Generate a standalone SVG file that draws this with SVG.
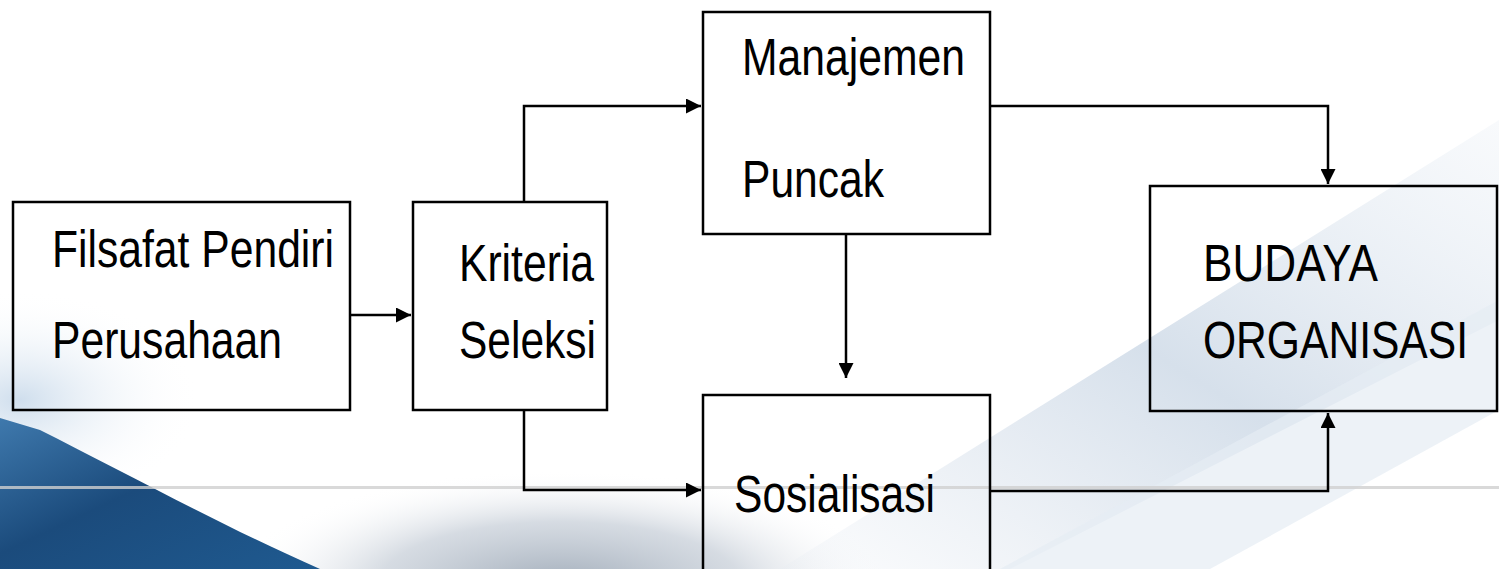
<svg xmlns="http://www.w3.org/2000/svg" width="1499" height="569" viewBox="0 0 1499 569">
<defs>
<style>
.box{fill:none;stroke:#000;stroke-width:2.5}
.lbl{font-family:"Liberation Sans Narrow","Liberation Sans",Arial,sans-serif;font-size:51px;fill:#000}
.con{fill:none;stroke:#000;stroke-width:2.5}
</style>
<marker id="ah" viewBox="0 0 10 10" refX="10" refY="5" markerWidth="6" markerHeight="6" markerUnits="strokeWidth" orient="auto">
<path d="M0,0 L10,5 L0,10 z" fill="#000"/>
</marker>
<linearGradient id="blue" x1="0" y1="0" x2="1" y2="1">
<stop offset="0" stop-color="#3f79ad"/>
<stop offset="0.45" stop-color="#1b4b7c"/>
<stop offset="1" stop-color="#1f5a90"/>
</linearGradient>
<radialGradient id="grayb" cx="0.5" cy="0.5" r="0.5">
<stop offset="0" stop-color="#a2adba"/>
<stop offset="0.55" stop-color="#c4ccd6" stop-opacity="0.7"/>
<stop offset="1" stop-color="#ffffff" stop-opacity="0"/>
</radialGradient>
<linearGradient id="streak" x1="0" y1="1" x2="1" y2="0">
<stop offset="0" stop-color="#dfe6ef" stop-opacity="0.1"/>
<stop offset="0.5" stop-color="#d6e0eb"/>
<stop offset="1" stop-color="#e8eef5" stop-opacity="0.3"/>
</linearGradient>
<radialGradient id="leftfade" cx="0.5" cy="0.5" r="0.5">
<stop offset="0" stop-color="#cfdeed"/>
<stop offset="1" stop-color="#ffffff" stop-opacity="0"/>
</radialGradient>
</defs>
<rect width="1499" height="569" fill="#ffffff"/>
<g id="background">
<ellipse cx="20" cy="400" rx="180" ry="110" fill="url(#leftfade)"/>
<ellipse cx="560" cy="585" rx="330" ry="115" fill="url(#grayb)"/>
<path d="M780,569 L1499,120 L1499,320 L1010,569 Z" fill="url(#streak)"/>
<path d="M1000,569 L1499,300 L1499,410 L1210,569 Z" fill="#e6ecf3" opacity="0.7"/>
<path d="M0,418 L40,430 C120,470 230,530 320,569 L0,569 Z" fill="url(#blue)"/>
<rect x="0" y="486" width="1499" height="3" fill="#cfcfcf" opacity="0.8"/>
</g>
<g id="connectors">
<path class="con" d="M350,315 H411" marker-end="url(#ah)"/>
<path class="con" d="M524,202 V106 H701" marker-end="url(#ah)"/>
<path class="con" d="M524,410 V490 H701" marker-end="url(#ah)"/>
<path class="con" d="M846,234 V378" marker-end="url(#ah)"/>
<path class="con" d="M990,106 H1328 V184" marker-end="url(#ah)"/>
<path class="con" d="M990,491 H1328 V413" marker-end="url(#ah)"/>
</g>
<g id="n-filsafat">
<rect class="box" x="13" y="202" width="337" height="208"/>
<text class="lbl" x="52" y="267" textLength="282" lengthAdjust="spacingAndGlyphs">Filsafat Pendiri</text>
<text class="lbl" x="52" y="358" textLength="230" lengthAdjust="spacingAndGlyphs">Perusahaan</text>
</g>
<g id="n-kriteria">
<rect class="box" x="413" y="202" width="194" height="208"/>
<text class="lbl" x="459" y="281" textLength="135" lengthAdjust="spacingAndGlyphs">Kriteria</text>
<text class="lbl" x="459" y="358" textLength="137" lengthAdjust="spacingAndGlyphs">Seleksi</text>
</g>
<g id="n-manajemen">
<rect class="box" x="703" y="12" width="287" height="222"/>
<text class="lbl" x="742" y="75" textLength="223" lengthAdjust="spacingAndGlyphs">Manajemen</text>
<text class="lbl" x="742" y="197" textLength="142" lengthAdjust="spacingAndGlyphs">Puncak</text>
</g>
<g id="n-sosialisasi">
<rect class="box" x="703" y="395" width="287" height="190"/>
<text class="lbl" x="734" y="512" textLength="201" lengthAdjust="spacingAndGlyphs">Sosialisasi</text>
</g>
<g id="n-budaya">
<rect class="box" x="1150" y="186" width="347" height="225"/>
<text class="lbl" x="1203" y="281" textLength="175" lengthAdjust="spacingAndGlyphs">BUDAYA</text>
<text class="lbl" x="1203" y="358" textLength="265" lengthAdjust="spacingAndGlyphs">ORGANISASI</text>
</g>
</svg>
